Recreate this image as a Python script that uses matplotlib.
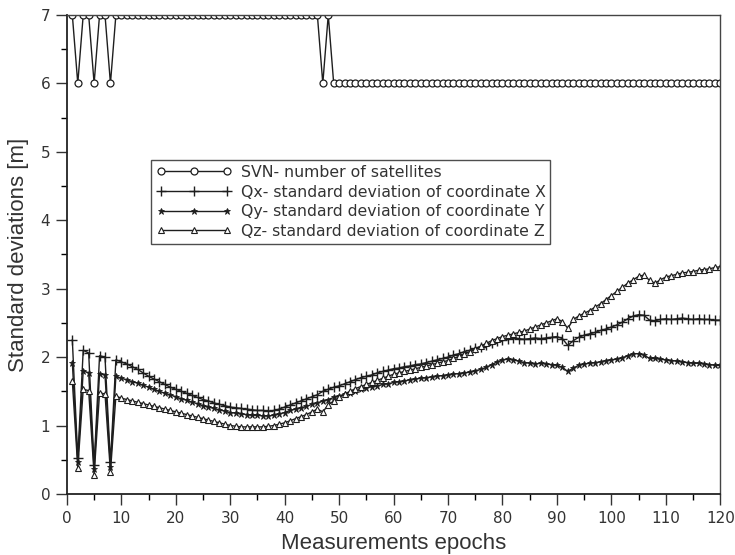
import matplotlib
matplotlib.use("Agg")
import matplotlib.pyplot as plt
from matplotlib.ticker import MultipleLocator

epochs = list(range(1, 121))

svn = [7, 6, 7, 7, 6, 7, 7, 6, 7, 7,
       7, 7, 7, 7, 7, 7, 7, 7, 7, 7,
       7, 7, 7, 7, 7, 7, 7, 7, 7, 7,
       7, 7, 7, 7, 7, 7, 7, 7, 7, 7,
       7, 7, 7, 7, 7, 7, 6, 7, 6, 6,
       6, 6, 6, 6, 6, 6, 6, 6, 6, 6,
       6, 6, 6, 6, 6, 6, 6, 6, 6, 6,
       6, 6, 6, 6, 6, 6, 6, 6, 6, 6,
       6, 6, 6, 6, 6, 6, 6, 6, 6, 6,
       6, 6, 6, 6, 6, 6, 6, 6, 6, 6,
       6, 6, 6, 6, 6, 6, 6, 6, 6, 6,
       6, 6, 6, 6, 6, 6, 6, 6, 6, 6]

qx = [2.25, 0.52, 2.10, 2.06, 0.42, 2.02, 2.00, 0.46, 1.96, 1.93,
      1.90, 1.86, 1.82, 1.77, 1.72, 1.68, 1.64, 1.60, 1.56, 1.53,
      1.50, 1.47, 1.44, 1.41, 1.38, 1.36, 1.33, 1.31, 1.29, 1.27,
      1.26, 1.25, 1.24, 1.23, 1.22, 1.22, 1.21, 1.22, 1.24, 1.27,
      1.30, 1.33, 1.36, 1.39, 1.42, 1.45, 1.50, 1.53, 1.56, 1.58,
      1.61, 1.64, 1.67, 1.70, 1.72, 1.74, 1.77, 1.79, 1.81, 1.83,
      1.84, 1.86, 1.87, 1.89, 1.90, 1.92, 1.94, 1.96, 1.98, 2.00,
      2.03, 2.05, 2.08, 2.10, 2.13, 2.15, 2.18, 2.21, 2.23, 2.25,
      2.27, 2.28, 2.27, 2.26, 2.27, 2.28, 2.27, 2.28, 2.29, 2.30,
      2.27, 2.17, 2.24, 2.29, 2.32, 2.34, 2.36, 2.39, 2.41, 2.44,
      2.47, 2.51, 2.56, 2.60, 2.62, 2.61, 2.54, 2.53, 2.55, 2.56,
      2.55, 2.56, 2.57, 2.56, 2.55, 2.56, 2.55, 2.55, 2.54, 2.54]

qy = [1.92, 0.46, 1.80, 1.77, 0.36, 1.76, 1.74, 0.40, 1.72, 1.69,
      1.67, 1.64, 1.62, 1.59, 1.56, 1.53, 1.50, 1.47, 1.45, 1.42,
      1.39, 1.37, 1.34, 1.32, 1.29, 1.27, 1.25, 1.23, 1.21, 1.19,
      1.18, 1.17, 1.16, 1.15, 1.15, 1.14, 1.14, 1.15, 1.17, 1.19,
      1.22, 1.24, 1.26, 1.28, 1.31, 1.33, 1.36, 1.38, 1.41, 1.43,
      1.46, 1.48, 1.51, 1.53, 1.55, 1.57, 1.58, 1.60, 1.61, 1.63,
      1.64, 1.65, 1.67, 1.68, 1.69, 1.70, 1.71, 1.72, 1.73, 1.74,
      1.75, 1.76, 1.77, 1.78, 1.80, 1.82, 1.85, 1.89, 1.93, 1.96,
      1.97, 1.96, 1.94, 1.92, 1.91, 1.90, 1.91, 1.90, 1.89, 1.88,
      1.85, 1.79, 1.84, 1.88, 1.90, 1.91, 1.92, 1.93, 1.95, 1.96,
      1.97, 1.99, 2.02, 2.05, 2.05, 2.03, 1.98, 1.98, 1.97, 1.96,
      1.95, 1.94, 1.93, 1.92, 1.91, 1.91, 1.90, 1.89, 1.88, 1.88]

qz = [1.65, 0.38, 1.53, 1.51, 0.28, 1.48, 1.46, 0.32, 1.43, 1.40,
      1.38, 1.36, 1.34, 1.32, 1.30, 1.28, 1.26, 1.24, 1.22, 1.20,
      1.18, 1.16, 1.14, 1.12, 1.10, 1.08, 1.06, 1.04, 1.02, 1.00,
      0.99, 0.98, 0.98, 0.98, 0.98, 0.98, 0.99, 1.00, 1.02, 1.04,
      1.07, 1.10, 1.13, 1.16, 1.20, 1.24, 1.20, 1.30, 1.36, 1.41,
      1.46, 1.50, 1.54, 1.57, 1.60, 1.63, 1.66, 1.69, 1.72, 1.75,
      1.77, 1.79, 1.81, 1.83, 1.85, 1.87, 1.89, 1.91, 1.93, 1.95,
      1.98, 2.01, 2.04, 2.08, 2.12, 2.16, 2.20, 2.24, 2.27, 2.30,
      2.32, 2.34, 2.36, 2.38, 2.41, 2.44, 2.47, 2.50, 2.53, 2.56,
      2.52, 2.42, 2.55, 2.60, 2.64, 2.68, 2.73, 2.78, 2.84, 2.90,
      2.96, 3.02, 3.08, 3.13, 3.18, 3.20, 3.12, 3.08, 3.13, 3.17,
      3.19, 3.21, 3.23, 3.24, 3.25, 3.27, 3.28, 3.29, 3.31, 3.32]

labels = ["SVN- number of satellites",
          "Qx- standard deviation of coordinate X",
          "Qy- standard deviation of coordinate Y",
          "Qz- standard deviation of coordinate Z"]

ink = "#1e1e1e"
fig = plt.figure(figsize=(7.35, 5.55), dpi=100)
ax = fig.add_axes([0.091, 0.110, 0.889, 0.863])

ax.plot(epochs, svn, color=ink, lw=1.0, marker="o", ms=5, mfc="white",
        mec=ink, mew=0.9, label=labels[0])
ax.plot(epochs, qx, color=ink, lw=1.0, marker="+", ms=7, mew=1.0,
        label=labels[1])
ax.plot(epochs, qy, color=ink, lw=1.0, marker="*", ms=5, mfc=ink,
        mec=ink, mew=0.6, label=labels[2])
ax.plot(epochs, qz, color=ink, lw=1.0, marker="^", ms=4, mfc="white",
        mec=ink, mew=0.8, label=labels[3])

ax.set_xlim(0, 120)
ax.set_ylim(0, 7)
ax.xaxis.set_major_locator(MultipleLocator(10))
ax.xaxis.set_minor_locator(MultipleLocator(5))
ax.yaxis.set_major_locator(MultipleLocator(1))
ax.yaxis.set_minor_locator(MultipleLocator(0.5))
ax.tick_params(which="major", direction="out", length=8, width=1.0,
               labelsize=11, colors="#333333", pad=4)
ax.tick_params(which="minor", direction="out", length=4, width=1.0)
for lab in ax.get_xticklabels() + ax.get_yticklabels():
    lab.set_fontfamily("DejaVu Sans")
for s in ["left", "bottom"]:
    ax.spines[s].set_linewidth(1.3)
    ax.spines[s].set_color("#222222")
for s in ["top", "right"]:
    ax.spines[s].set_linewidth(1.0)
    ax.spines[s].set_color("#444444")

ax.set_xlabel("Measurements epochs", fontsize=16, family="Liberation Sans",
              color="#333333", labelpad=5)
ax.set_ylabel("Standard deviations [m]", fontsize=16, family="Liberation Sans",
              color="#333333", labelpad=8)

leg = ax.legend(loc="upper left", bbox_to_anchor=(0.129, 0.697),
                numpoints=3, handlelength=4.8,
                prop={"family": "DejaVu Sans", "size": 11.3},
                frameon=True, fancybox=False, borderpad=0.3,
                labelspacing=0.3, handletextpad=0.6, borderaxespad=0)
leg.get_frame().set_edgecolor("#222222")
leg.get_frame().set_linewidth(1.0)
for t in leg.get_texts():
    t.set_color("#333333")

fig.savefig("out.png", dpi=100)
